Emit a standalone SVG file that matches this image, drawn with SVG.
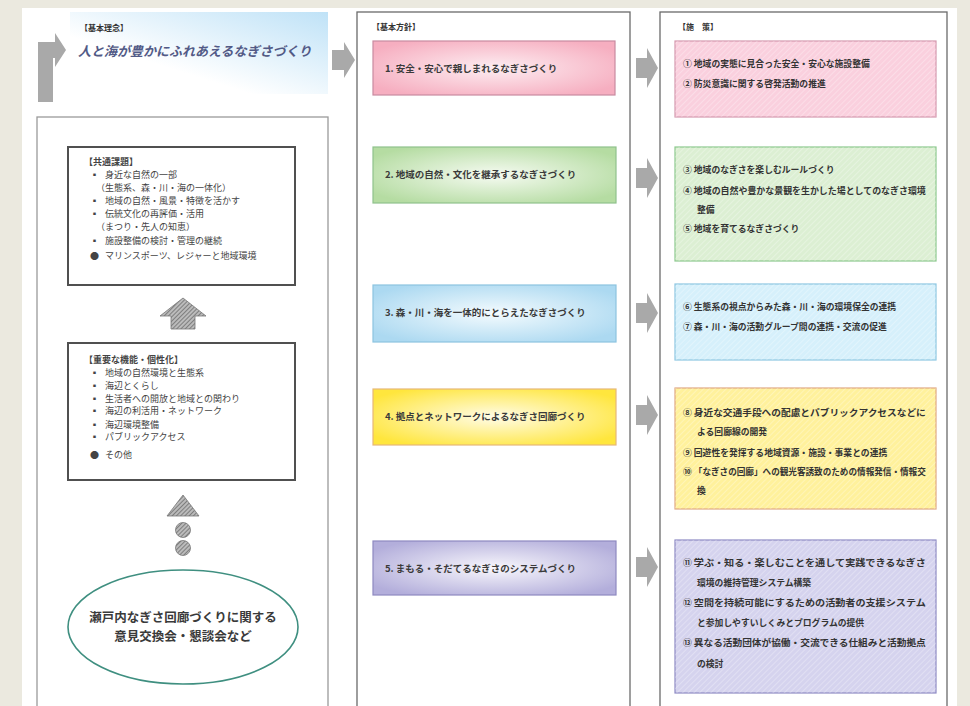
<svg xmlns="http://www.w3.org/2000/svg" width="970" height="706" viewBox="0 0 970 706">
<style>
text{font-family:"Noto Sans CJK JP","Noto Sans",sans-serif;}
.ttl{font-size:8px;font-weight:bold;fill:#333;}
.mid{font-size:9.5px;font-weight:bold;fill:#3a3a3a;}
.rt{font-size:8.8px;font-weight:bold;fill:#333;}
.lt{font-size:9px;fill:#444;}
.col{fill:#fff;stroke:#6a6a6a;stroke-width:1.3;}
.gar{fill:#a9a9a9;}
.lbox{fill:#fff;stroke:#505050;stroke-width:2;}
</style>
<defs>
<linearGradient id="banner" x1="0" y1="1" x2="1" y2="0">
<stop offset="0.35" stop-color="#ffffff"/>
<stop offset="1" stop-color="#bfe2f7"/>
</linearGradient>
<radialGradient id="gPink" cx="0.5" cy="0.5" r="0.6"><stop offset="0" stop-color="#fdeef2"/><stop offset="1" stop-color="#f6aec0"/></radialGradient>
<radialGradient id="gGreen" cx="0.5" cy="0.5" r="0.6"><stop offset="0" stop-color="#f6fbf2"/><stop offset="1" stop-color="#b5dca2"/></radialGradient>
<radialGradient id="gBlue" cx="0.5" cy="0.5" r="0.6"><stop offset="0" stop-color="#f4fbfe"/><stop offset="1" stop-color="#acd9f1"/></radialGradient>
<radialGradient id="gYellow" cx="0.5" cy="0.5" r="0.6"><stop offset="0" stop-color="#fffce8"/><stop offset="1" stop-color="#ffe63d"/></radialGradient>
<radialGradient id="gPurple" cx="0.5" cy="0.5" r="0.6"><stop offset="0" stop-color="#f8f7fc"/><stop offset="1" stop-color="#b3aedb"/></radialGradient>
<pattern id="hatch" width="4" height="4" patternUnits="userSpaceOnUse" patternTransform="rotate(45)">
<line x1="0" y1="0" x2="0" y2="4" stroke="#ffffff" stroke-width="1" stroke-opacity="0.55"/>
</pattern>
<pattern id="dark" width="3" height="3" patternUnits="userSpaceOnUse" patternTransform="rotate(45)">
<rect width="3" height="3" fill="#bbbbbb"/>
<line x1="0" y1="0" x2="0" y2="3" stroke="#555" stroke-width="1.2"/>
</pattern>
</defs>

<rect x="0" y="0" width="970" height="706" fill="#ebe9df"/>
<rect x="22" y="8" width="935" height="698" fill="#ffffff"/>

<!-- 基本理念 banner -->
<g id="kihon-rinen">
<rect x="70" y="12" width="258" height="82" fill="url(#banner)"/>
<text x="80" y="31" class="ttl">【基本理念】</text>
<text x="78" y="56" font-size="13" font-style="italic" font-weight="600" fill="#525a86">人と海が豊かにふれあえるなぎさづくり</text>
</g>

<!-- Left column -->
<g id="left-col">
<rect x="37" y="117" width="291" height="600" fill="#fff" stroke="#9a9a9a" stroke-width="1.3"/>
</g>

<g id="kyotsu-kadai">
<rect x="68" y="147" width="227" height="138" class="lbox"/>
<text x="84" y="165" class="lt" font-weight="bold">【共通課題】</text>
<text x="90" y="178" class="lt">▪</text><text x="105" y="178" class="lt">身近な自然の一部</text>
<text x="96" y="191" class="lt">（生態系、森・川・海の一体化）</text>
<text x="90" y="204" class="lt">▪</text><text x="105" y="204" class="lt">地域の自然・風景・特徴を活かす</text>
<text x="90" y="217" class="lt">▪</text><text x="105" y="217" class="lt">伝統文化の再評価・活用</text>
<text x="96" y="230" class="lt">（まつり・先人の知恵）</text>
<text x="90" y="244" class="lt">▪</text><text x="105" y="244" class="lt">施設整備の検討・管理の継続</text>
<text x="90" y="259" class="lt">●</text><text x="105" y="259" class="lt">マリンスポーツ、レジャーと地域環境</text>
</g>

<g id="up-arrow-1">
<path d="M183,298 L206,316 L195,316 L195,329 L171,329 L171,316 L160,316 Z" fill="url(#dark)" stroke="#777" stroke-width="0.8"/>
</g>

<g id="juyo-kino">
<rect x="68" y="343" width="227" height="137" class="lbox"/>
<text x="84" y="363" class="lt" font-weight="bold">【重要な機能・個性化】</text>
<text x="90" y="376" class="lt">▪</text><text x="105" y="376" class="lt">地域の自然環境と生態系</text>
<text x="90" y="389" class="lt">▪</text><text x="105" y="389" class="lt">海辺とくらし</text>
<text x="90" y="402" class="lt">▪</text><text x="105" y="402" class="lt">生活者への開放と地域との関わり</text>
<text x="90" y="414" class="lt">▪</text><text x="105" y="414" class="lt">海辺の利活用・ネットワーク</text>
<text x="90" y="428" class="lt">▪</text><text x="105" y="428" class="lt">海辺環境整備</text>
<text x="90" y="440" class="lt">▪</text><text x="105" y="440" class="lt">パブリックアクセス</text>
<text x="90" y="458" class="lt">●</text><text x="105" y="458" class="lt">その他</text>
</g>

<g id="up-arrow-2">
<path d="M183,495 L199,516 L167,516 Z" fill="url(#dark)" stroke="#777" stroke-width="0.8"/>
<circle cx="183" cy="530" r="7.5" fill="url(#dark)" stroke="#777" stroke-width="0.8"/>
<circle cx="183" cy="548" r="7.5" fill="url(#dark)" stroke="#777" stroke-width="0.8"/>
</g>

<g id="ikenkokan">
<ellipse cx="183" cy="627" rx="115" ry="57" fill="#fff" stroke="#3f8f80" stroke-width="1.6"/>
<text x="183" y="622" font-size="12.5" font-weight="bold" fill="#3a3a3a" text-anchor="middle">瀬戸内なぎさ回廊づくりに関する</text>
<text x="183" y="641" font-size="12.5" font-weight="bold" fill="#3a3a3a" text-anchor="middle">意見交換会・懇談会など</text>
</g>

<!-- Middle column -->
<g id="kihon-hoshin">
<rect x="357" y="12" width="273" height="700" class="col"/>
<text x="372" y="30" class="ttl">【基本方針】</text>
</g>
<g id="hoshin-1">
<rect x="373" y="41" width="242" height="54" fill="url(#gPink)" stroke="#c98aa0" stroke-width="1.2"/>
<text x="385" y="72" class="mid">1. 安全・安心で親しまれるなぎさづくり</text>
</g>
<g id="hoshin-2">
<rect x="373" y="147" width="243" height="56" fill="url(#gGreen)" stroke="#8fc28c" stroke-width="1.2"/>
<text x="385" y="178" class="mid">2. 地域の自然・文化を継承するなぎさづくり</text>
</g>
<g id="hoshin-3">
<rect x="373" y="285" width="243" height="57" fill="url(#gBlue)" stroke="#8cc4e0" stroke-width="1.2"/>
<text x="385" y="316" class="mid">3. 森・川・海を一体的にとらえたなぎさづくり</text>
</g>
<g id="hoshin-4">
<rect x="373" y="389" width="243" height="56" fill="url(#gYellow)" stroke="#e6b878" stroke-width="1.2"/>
<text x="385" y="420" class="mid">4. 拠点とネットワークによるなぎさ回廊づくり</text>
</g>
<g id="hoshin-5">
<rect x="373" y="541" width="243" height="54" fill="url(#gPurple)" stroke="#8e89c0" stroke-width="1.2"/>
<text x="385" y="572" class="mid">5. まもる・そだてるなぎさのシステムづくり</text>
</g>

<!-- Right column -->
<g id="shisaku">
<rect x="660" y="12" width="287" height="700" class="col"/>
<text x="678" y="30" class="ttl">【施　策】</text>
</g>
<g id="shisaku-1">
<rect x="675" y="41" width="261" height="76" fill="#fad0de" stroke="#d498ae" stroke-width="1.2"/>
<rect x="675" y="41" width="261" height="76" fill="url(#hatch)"/>
<text x="683" y="67" class="rt">① 地域の実態に見合った安全・安心な施設整備</text>
<text x="683" y="87" class="rt">② 防災意識に関する啓発活動の推進</text>
</g>
<g id="shisaku-2">
<rect x="675" y="147" width="261" height="114" fill="#dcefd3" stroke="#8cc88e" stroke-width="1.2"/>
<rect x="675" y="147" width="261" height="114" fill="url(#hatch)"/>
<text x="683" y="173" class="rt">③ 地域のなぎさを楽しむルールづくり</text>
<text x="683" y="194" class="rt">④ <tspan textLength="232" lengthAdjust="spacingAndGlyphs">地域の自然や豊かな景観を生かした場としてのなぎさ環境</tspan></text>
<text x="697" y="213" class="rt">整備</text>
<text x="683" y="232" class="rt">⑤ 地域を育てるなぎさづくり</text>
</g>
<g id="shisaku-3">
<rect x="675" y="284" width="261" height="76" fill="#d6f0fb" stroke="#8cc6e2" stroke-width="1.2"/>
<rect x="675" y="284" width="261" height="76" fill="url(#hatch)"/>
<text x="683" y="310" class="rt">⑥ 生態系の視点からみた森・川・海の環境保全の連携</text>
<text x="683" y="330" class="rt">⑦ 森・川・海の活動グループ間の連携・交流の促進</text>
</g>
<g id="shisaku-4">
<rect x="675" y="388" width="261" height="121" fill="#fff19c" stroke="#e0a882" stroke-width="1.2"/>
<rect x="675" y="388" width="261" height="121" fill="url(#hatch)"/>
<text x="683" y="416" class="rt">⑧ <tspan textLength="232" lengthAdjust="spacingAndGlyphs">身近な交通手段への配慮とパブリックアクセスなどに</tspan></text>
<text x="697" y="435" class="rt">よる回廊線の開発</text>
<text x="683" y="456" class="rt">⑨ 回遊性を発揮する地域資源・施設・事業との連携</text>
<text x="683" y="475" class="rt">⑩ <tspan textLength="232" lengthAdjust="spacingAndGlyphs">「なぎさの回廊」への観光客誘致のための情報発信・情報交</tspan></text>
<text x="697" y="494" class="rt">換</text>
</g>
<g id="shisaku-5">
<rect x="675" y="540" width="261" height="153" fill="#d5d3ee" stroke="#8e8ac4" stroke-width="1.2"/>
<rect x="675" y="540" width="261" height="153" fill="url(#hatch)"/>
<text x="683" y="566" class="rt">⑪ <tspan textLength="232" lengthAdjust="spacingAndGlyphs">学ぶ・知る・楽しむことを通して実践できるなぎさ</tspan></text>
<text x="697" y="586" class="rt">環境の維持管理システム構築</text>
<text x="683" y="606" class="rt">⑫ <tspan textLength="232" lengthAdjust="spacingAndGlyphs">空間を持続可能にするための活動者の支援システム</tspan></text>
<text x="697" y="626" class="rt">と参加しやすいしくみとプログラムの提供</text>
<text x="683" y="646" class="rt">⑬ <tspan textLength="232" lengthAdjust="spacingAndGlyphs">異なる活動団体が協働・交流できる仕組みと活動拠点</tspan></text>
<text x="697" y="667" class="rt">の検討</text>
</g>

<!-- Connectors (block arrows) -->
<g id="connectors">
<path class="gar" d="M38,102 L38,42 L55,42 L55,33 L66,50 L55,67 L55,58 L53,58 L53,102 Z"/>
<path class="gar" d="M332,50 L344,50 L344,42 L355,60 L344,78 L344,70 L332,70 Z"/>
<path class="gar" d="M636,58 L647,58 L647,48 L658,68 L647,88 L647,78 L636,78 Z"/>
<path class="gar" d="M636,168 L647,168 L647,158 L658,178 L647,198 L647,188 L636,188 Z"/>
<path class="gar" d="M636,303 L647,303 L647,293 L658,313 L647,333 L647,323 L636,323 Z"/>
<path class="gar" d="M636,405 L647,405 L647,395 L658,415 L647,435 L647,425 L636,425 Z"/>
<path class="gar" d="M636,557 L647,557 L647,547 L658,567 L647,587 L647,577 L636,577 Z"/>
</g>
</svg>
